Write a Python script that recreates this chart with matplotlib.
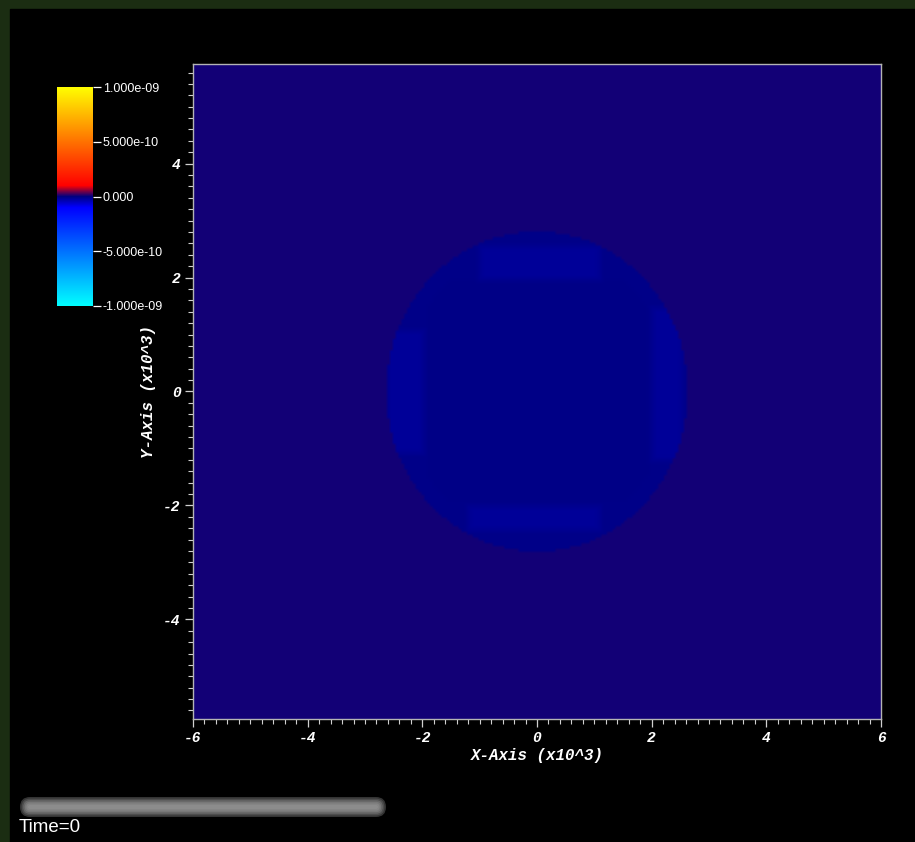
import numpy as np
import matplotlib
matplotlib.use("Agg")
import matplotlib.pyplot as plt
from matplotlib.colors import LinearSegmentedColormap
from matplotlib.patches import FancyBboxPatch, Rectangle
from matplotlib.ticker import MultipleLocator

# colour table (hot and cold)
cmap_positions = [0.0, 0.45, 0.5, 0.55, 1.0]
cmap_colors = ["#00ffff", "#0000ff", "#000080", "#ff0000", "#ffff00"]

# mesh extent (x10^3)
x_extent = [-6.0, 6.0]
y_extent = [-5.75, 5.75]
v_min, v_max = -1.0e-9, 1.0e-9

# field values
background_value = 7.0e-12
disk_value = -6.5e-12
inner_value = -5.5e-12
band_value = -1.9e-11

disk_center = [0.0, 0.0]
disk_radius = [2.64, 2.82]
band_edge = 0.15
inner_half = 1.95

# the four darker bands: left edge, right edge, bottom, top
band_x0 = [-1.0, -1.2, -2.62, 2.02]
band_x1 = [1.1, 1.1, -1.99, 2.55]
band_y0 = [1.98, -2.44, -1.09, -1.21]
band_y1 = [2.56, -2.03, 1.07, 1.47]

cbar_ticks = [-1.0e-9, -5.0e-10, 0.0, 5.0e-10, 1.0e-9]
cbar_labels = ["-1.000e-09", "-5.000e-10", "0.000", "5.000e-10", "1.000e-09"]
x_ticks = [-6, -4, -2, 0, 2, 4, 6]
y_ticks = [-4, -2, 0, 2, 4]
time_label = "Time=0"


def build_field(step=0.05):
    """Fill the mesh with the region values."""
    xs = np.arange(x_extent[0], x_extent[1] + step, step)
    ys = np.arange(y_extent[0], y_extent[1] + step, step)
    X, Y = np.meshgrid(xs, ys)
    field = np.full(X.shape, background_value)

    r = np.sqrt(((X - disk_center[0]) / disk_radius[0]) ** 2
                + ((Y - disk_center[1]) / disk_radius[1]) ** 2)
    disk = r < 1.0
    field[disk] = disk_value

    inner = (np.abs(X) < inner_half) & (np.abs(Y) < inner_half) & (r < 0.9)
    field[inner] = inner_value

    for x0, x1, y0, y1 in zip(band_x0, band_x1, band_y0, band_y1):
        d = np.minimum.reduce([X - x0, x1 - X, Y - y0, y1 - Y])
        bw = np.clip(d / band_edge + 0.5, 0, 1) * disk
        field = field + bw * (band_value - field)
    return field


def main():
    plt.rcParams['font.family'] = ['Liberation Mono', 'DejaVu Sans']
    plt.rcParams['axes.unicode_minus'] = False

    W, H = 915, 842
    fig = plt.figure(figsize=(W / 100, H / 100), dpi=100, facecolor="#1b2d12")

    # black panel and time slider drawn in pixel units
    bg = fig.add_axes([0, 0, 1, 1], zorder=-1)
    bg.set_xlim(0, W)
    bg.set_ylim(H, 0)
    bg.axis("off")
    bg.add_patch(Rectangle((10, 9), W - 10, H - 9, color="black"))

    x0, y0, sw, sh = 20, 797, 366, 20
    shades = [0.2, 0.3, 0.4, 0.47, 0.52, 0.55]
    for k, g in enumerate(shades):
        inset = k * 1.6
        pad = sh / 2 - inset
        bg.add_patch(FancyBboxPatch(
            (x0 + sh / 2, y0 + sh / 2), sw - sh, 0,
            boxstyle=f"round,pad={pad}", facecolor=(g, g, g),
            edgecolor="none", mutation_aspect=1))
    bg.text(19, 828, time_label, color="white", fontsize=13.5,
            family=["Liberation Sans", "DejaVu Sans"], va="center", ha="left")

    cmap = LinearSegmentedColormap.from_list(
        "hot_and_cold", list(zip(cmap_positions, cmap_colors)), N=2048)

    ax = fig.add_axes([193 / W, 1 - 719 / H, 688 / W, 655 / H])
    ax.set_facecolor("black")
    field = build_field()
    im = ax.imshow(field, cmap=cmap, vmin=v_min, vmax=v_max, origin="lower",
                   extent=[x_extent[0], x_extent[1], y_extent[0], y_extent[1]],
                   interpolation="bilinear", aspect="auto")
    ax.set_xlim(x_extent)
    ax.set_ylim(y_extent)

    ax.set_xticks(x_ticks)
    ax.set_yticks(y_ticks)
    ax.xaxis.set_minor_locator(MultipleLocator(0.2))
    ax.yaxis.set_minor_locator(MultipleLocator(0.2))
    for spine in ax.spines.values():
        spine.set_color("#b4b4b4")
        spine.set_linewidth(1.0)
    ax.tick_params(which="major", length=6, width=0.9, color="#d0d0d0",
                   labelcolor="white", labelsize=10.5, pad=3)
    ax.tick_params(which="minor", length=3.5, width=0.8, color="#d0d0d0")
    for lab in ax.get_xticklabels() + ax.get_yticklabels():
        lab.set_fontweight("bold")
        lab.set_fontstyle("italic")
    ax.set_xlabel("X-Axis (x10^3)", color="white", fontsize=11.3,
                  fontweight="bold", fontstyle="italic", labelpad=2)
    ax.set_ylabel("Y-Axis (x10^3)", color="white", fontsize=11.3,
                  fontweight="bold", fontstyle="italic", labelpad=5)

    # legend colour bar
    cax = fig.add_axes([57 / W, 1 - 306 / H, 36 / W, 219 / H])
    cb = fig.colorbar(im, cax=cax, ticks=cbar_ticks)
    cb.outline.set_visible(False)
    cb.ax.set_yticklabels(cbar_labels)
    cb.ax.tick_params(length=6, width=0.9, color="white", labelcolor="white",
                      labelsize=9, pad=1)
    for lab in cb.ax.get_yticklabels():
        lab.set_family(["Liberation Sans", "DejaVu Sans"])

    fig.savefig("out.png", dpi=100, facecolor=fig.get_facecolor())


if __name__ == "__main__":
    main()
